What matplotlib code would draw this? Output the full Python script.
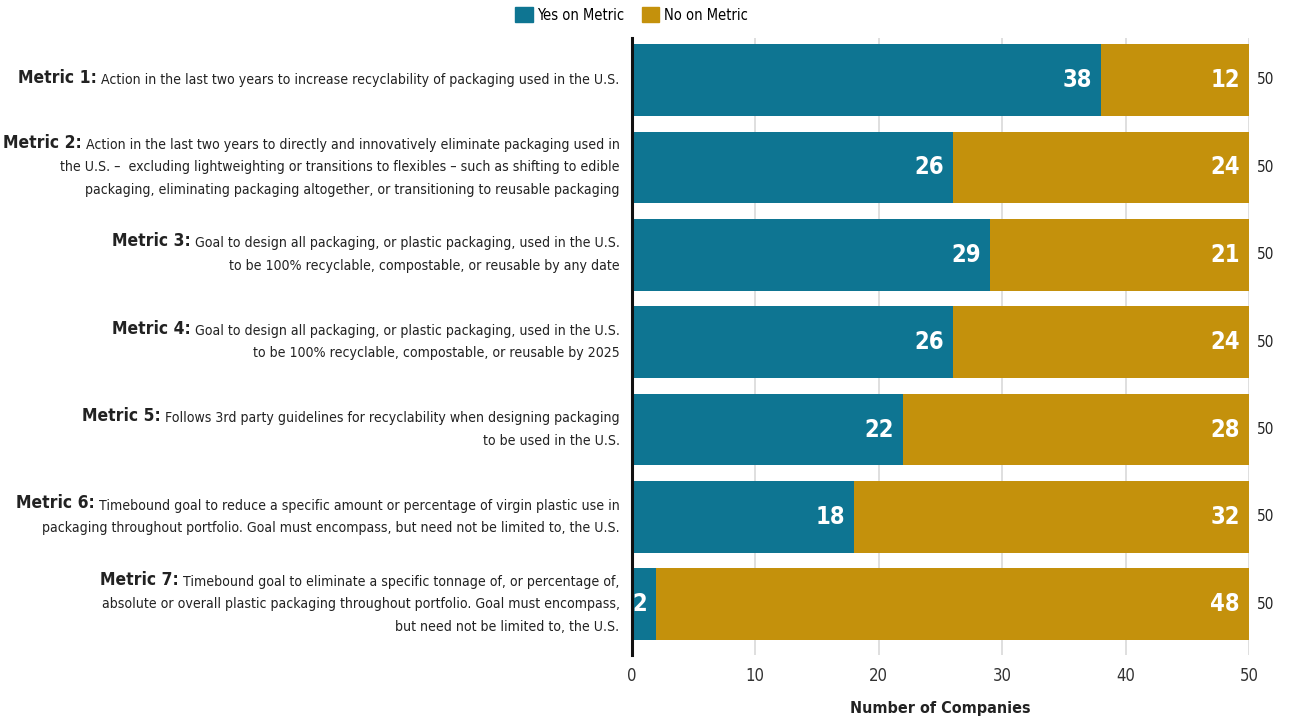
import matplotlib.pyplot as plt
from matplotlib.patches import Patch

plt.rcParams['font.family'] = ['DejaVu Sans']
plt.rcParams['font.stretch'] = 'condensed'

metrics = ["Metric 1:", "Metric 2:", "Metric 3:", "Metric 4:", "Metric 5:", "Metric 6:", "Metric 7:"]
descriptions = [
    ["Action in the last two years to increase recyclability of packaging used in the U.S."],
    ["Action in the last two years to directly and innovatively eliminate packaging used in",
     "the U.S. \u2013  excluding lightweighting or transitions to flexibles \u2013 such as shifting to edible",
     "packaging, eliminating packaging altogether, or transitioning to reusable packaging"],
    ["Goal to design all packaging, or plastic packaging, used in the U.S.",
     "to be 100% recyclable, compostable, or reusable by any date"],
    ["Goal to design all packaging, or plastic packaging, used in the U.S.",
     "to be 100% recyclable, compostable, or reusable by 2025"],
    ["Follows 3rd party guidelines for recyclability when designing packaging",
     "to be used in the U.S."],
    ["Timebound goal to reduce a specific amount or percentage of virgin plastic use in",
     "packaging throughout portfolio. Goal must encompass, but need not be limited to, the U.S."],
    ["Timebound goal to eliminate a specific tonnage of, or percentage of,",
     "absolute or overall plastic packaging throughout portfolio. Goal must encompass,",
     "but need not be limited to, the U.S."],
]
yes_vals = [38, 26, 29, 26, 22, 18, 2]
no_vals = [12, 24, 21, 24, 28, 32, 48]

teal = '#0E7592'
gold = '#C4910C'

fig = plt.figure(figsize=(12.89, 7.17), dpi=100)
ax = fig.add_axes([0.490, 0.0865, 0.479, 0.8605])

ypos = list(range(len(metrics)))
totals = [a + b for a, b in zip(yes_vals, no_vals)]
ax.barh(ypos, yes_vals, height=0.82, color=teal, zorder=3)
ax.barh(ypos, no_vals, left=yes_vals, height=0.82, color=gold, zorder=3)

ax.set_xlim(0, 50)
ax.set_ylim(6.58, -0.48)
ax.set_xticks(range(0, 51, 10))
ax.set_yticks([])
ax.grid(axis='x', color='#d9d9d9', linewidth=1.2, zorder=0)
for s in ['top', 'right', 'bottom']:
    ax.spines[s].set_visible(False)
ax.spines['left'].set_linewidth(2.2)
ax.spines['left'].set_color('#111111')
ax.spines['left'].set_zorder(5)
ax.tick_params(axis='x', length=0, labelsize=12, labelcolor='#333333', pad=9)
ax.set_xlabel('Number of Companies', fontsize=11.5, fontweight='bold', color='#222222', labelpad=11)

# segment value labels, right aligned inside each segment
for y, yv, nv, tot in zip(ypos, yes_vals, no_vals, totals):
    ax.annotate(str(yv), xy=(yv, y), xytext=(-9, 0), textcoords='offset pixels',
                ha='right', va='center', color='white', fontsize=17, fontweight='bold', zorder=6)
    ax.annotate(str(nv), xy=(yv + nv, y), xytext=(-9, 0), textcoords='offset pixels',
                ha='right', va='center', color='white', fontsize=17, fontweight='bold', zorder=6)
    ax.annotate(str(tot), xy=(tot, y), xytext=(8, 0), textcoords='offset pixels',
                ha='left', va='center', color='#222222', fontsize=11)

# category labels: bold prefix followed by the description, line by line
line_h = 22.5
fig.canvas.draw()
for y, name, lines in zip(ypos, metrics, descriptions):
    n = len(lines)
    for k, line in enumerate(lines):
        dy = ((n - 1) / 2 - k) * line_h
        t = ax.annotate(line, xy=(0, y), xytext=(-12, dy), textcoords='offset pixels',
                        ha='right', va='center', fontsize=10.1, color='#222222')
        if k == 0:
            ax.annotate(name, xy=(0, 0.02), xycoords=t, xytext=(-4, 0),
                        textcoords='offset pixels', ha='right', va='bottom',
                        fontsize=12.5, fontweight='bold', color='#222222')

handles = [Patch(color=teal, label='Yes on Metric'), Patch(color=gold, label='No on Metric')]
fig.legend(handles=handles, loc='upper center', bbox_to_anchor=(0.49, 1.008), ncol=2,
           frameon=False, fontsize=10.5, handlelength=1.2, handleheight=1.2,
           handletextpad=0.3, columnspacing=1.2)

fig.savefig('out.png', dpi=100)
